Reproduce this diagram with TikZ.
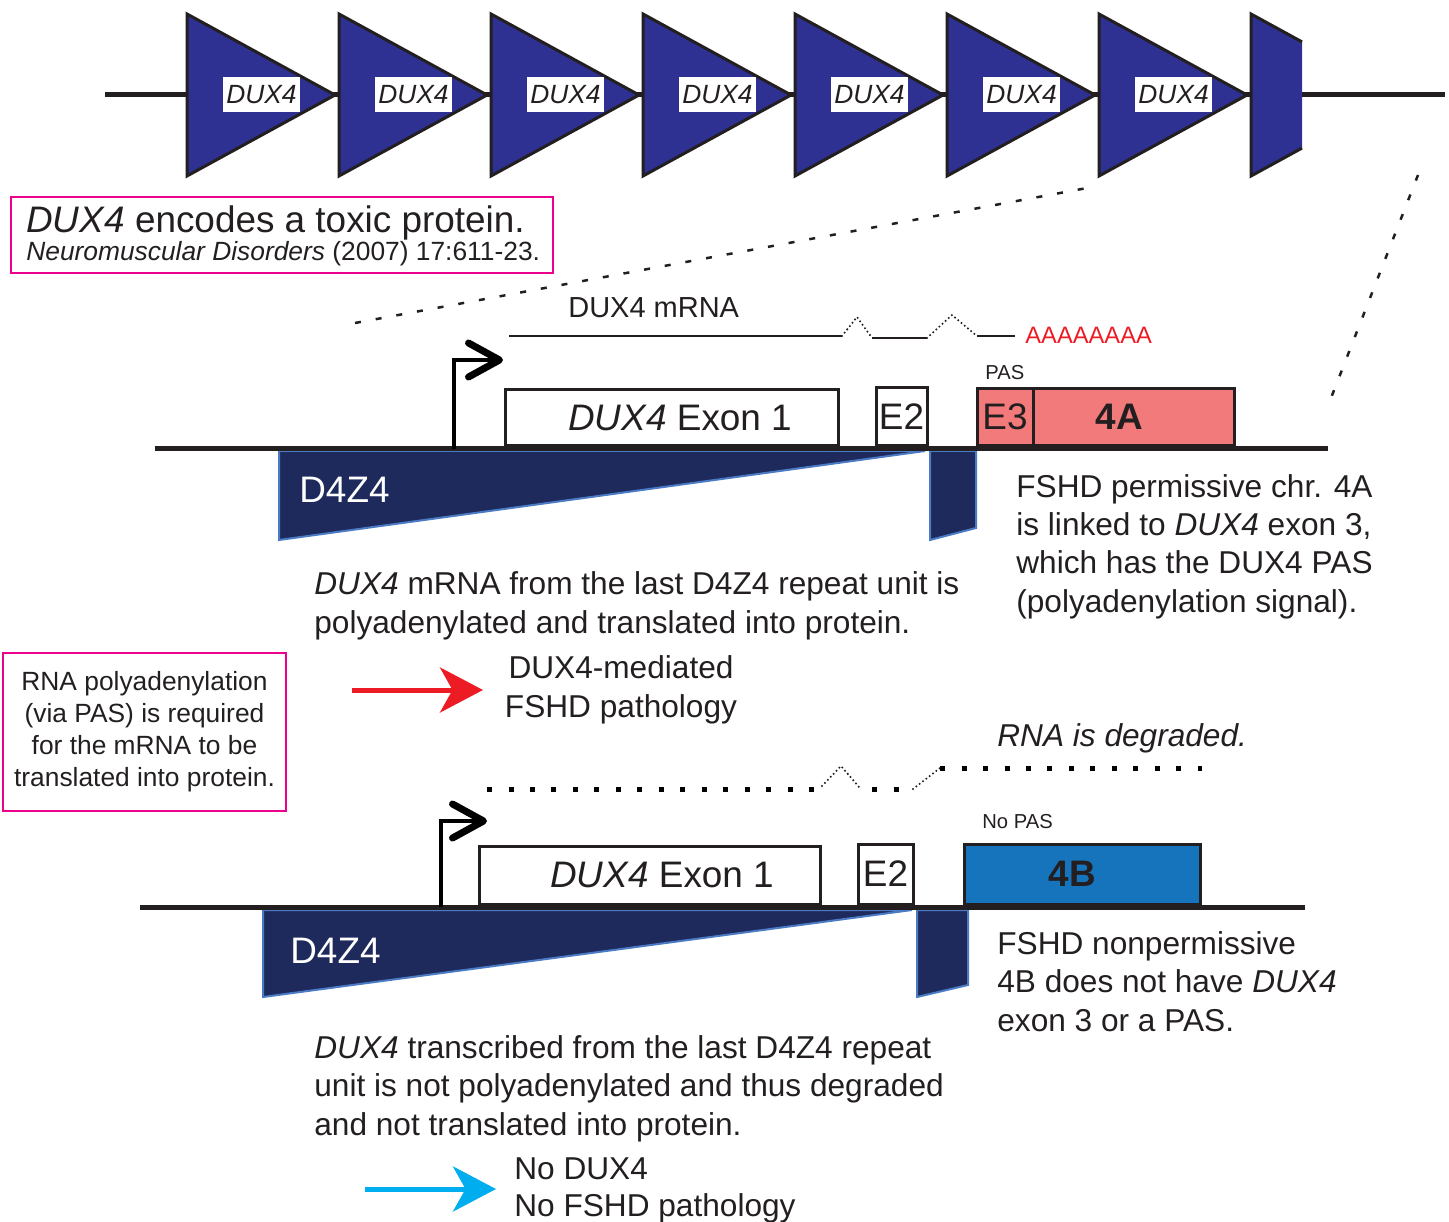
\documentclass[tikz,border=0pt]{standalone}
\usepackage{fontspec}
\setmainfont{Liberation Sans}
\usetikzlibrary{arrows.meta}

\definecolor{ink}{RGB}{35,31,32}
\definecolor{rptblue}{RGB}{46,49,146}
\definecolor{navy}{RGB}{31,42,92}
\definecolor{edgeblue}{RGB}{74,123,196}
\definecolor{boxpink}{RGB}{236,0,140}
\definecolor{arrred}{RGB}{237,28,36}
\definecolor{arrcyan}{RGB}{0,174,239}
\definecolor{salmon}{RGB}{242,122,122}
\definecolor{hapblue}{RGB}{21,116,187}

\newcommand{\fsz}[2]{\fontsize{#1}{#2}\selectfont}

\tikzset{
  chrline/.style={draw=ink, line width=0.1cm},
  rpt/.style={fill=rptblue, draw=ink, line width=0.06cm},
  rptlab/.style={fill=white, inner sep=0pt, minimum width=1.54cm, minimum height=0.7cm, text=ink, font=\fsz{15pt}{18pt}\itshape},
  pinkbox/.style={draw=boxpink, line width=0.045cm, inner sep=0pt},
  gbox/.style={draw=ink, line width=0.06cm, fill=white, inner sep=0pt, text=ink, font=\fsz{21pt}{25pt}},
  repunit/.style={fill=navy, draw=edgeblue, line width=0.04cm},
  dzlab/.style={text=white, inner sep=0pt, anchor=base west, font=\fsz{21pt}{25pt}},
  txt/.style={text=ink, inner sep=0pt, anchor=base west, align=left, font=\fsz{18pt}{21.7pt}},
  tss/.style={draw=black, line width=0.08cm, -{Straight Barb[length=0.62cm, width=0.68cm, line width=0.14cm, round]}},
  mrna/.style={draw=ink, line width=0.04cm},
  intron/.style={draw=ink, line width=1.3pt, line cap=round, dash pattern=on 0pt off 2.4pt},
  degr/.style={draw=black, line width=0.1cm, dash pattern=on 0.1cm off 0.33cm},
  zoomln/.style={draw=ink, line width=0.05cm, dash pattern=on 0.12cm off 0.3cm},
  outarrow/.style={line width=0.1cm, -{Stealth[length=0.86cm, width=0.9cm, inset=0.25cm]}},
}

\begin{document}
\begin{tikzpicture}[x=0.02cm, y=-0.02cm]
\useasboundingbox (0,0) rectangle (1449,1222);

% D4Z4 array on chr 4q35
\draw[chrline] (105,95) -- (1445,95);
\foreach \i in {0,...,6}{
  \pgfmathsetmacro\lx{187+152*\i}
  \draw[rpt] (\lx,14) -- ++(148,81) -- (\lx,176) -- cycle;
  \node[rptlab] (rpt\i) at (\lx+74.5,94.5) {DUX4};
}
\fill[rptblue] (1251,14) -- (1302,41.9) -- (1302,148.1) -- (1251,176) -- cycle;
\draw[rpt, fill=none] (1302,41.9) -- (1251,14) -- (1251,176) -- (1302,148.1);

% zoom from last unit
\coordinate (zAl) at (355,323);
\coordinate (zAr) at (1098,186);
\coordinate (zBr) at (1418,175);
\coordinate (zBl) at (1331,398);
\draw[zoomln] (zAl) -- (zAr);
\draw[zoomln] (zBr) -- (zBl);

% reference box
\node[pinkbox, minimum width=10.84cm, minimum height=1.52cm, anchor=north west] (citebox) at (10,196) {};
\node[txt, font=\fsz{21pt}{25pt}] (title) at (26,233) {\itshape DUX4\upshape{} encodes a toxic protein.};
\node[txt, font=\fsz{15pt}{18pt}] (citeref) at (26,261) {\itshape Neuromuscular Disorders\upshape{} (2007) 17:611-23.};

% ---- permissive 4A allele ----
\draw[repunit] (279,451) -- (925,451) -- (279,540) -- cycle;
\draw[repunit] (930,451) -- (976,451) -- (976,528) -- (930,540) -- cycle;
\node[dzlab] (dzA) at (299,502) {D4Z4};

\node[gbox, minimum width=6.68cm, minimum height=1.14cm] (exonOneA) at (672,417.5) {\hspace*{0.32cm}\itshape DUX4\upshape{} Exon 1};
\node[gbox, minimum width=1.02cm, minimum height=1.18cm] (exonTwoA) at (901.5,416.5) {E2};
\node[gbox, fill=salmon, minimum width=1.12cm, minimum height=1.16cm] (exonThreeA) at (1005,417) {E3};
\node[gbox, fill=salmon, minimum width=4.02cm, minimum height=1.16cm, font=\fsz{21pt}{25pt}\bfseries] (hapA) at (1133.5,417) {4A\hspace*{0.56cm}};
\draw[chrline] (155,449) -- (1328,449);

\coordinate (tssA) at (454,449);
\coordinate (tssAend) at (503,360);
\draw[tss] (tssA) |- (tssAend);

\draw[mrna] (509,336) -- (842,336);
\draw[intron] (842,336) -- (857,317) -- (872,338);
\draw[mrna] (872,338) -- (927,338);
\draw[intron] (927,338) -- (952,315) -- (977,336);
\draw[mrna] (977,336) -- (1015,336);
\node[txt, font=\fsz{16.5pt}{20pt}] (mrnaA) at (568,318) {DUX4 mRNA};
\node[txt, text=arrred, font=\fsz{13.5pt}{16pt}] (polyA) at (1025,343.5) {AAAAAAAA};
\node[txt, font=\fsz{11.5pt}{14pt}] (pasA) at (985,380) {PAS};

\node[txt] (descA) at (1016,612) {FSHD permissive chr. 4A\\is linked to \itshape DUX4\upshape{} exon 3,\\which has the DUX4 PAS\\(polyadenylation signal).};
\node[txt] (bodyA) at (314,633) {\itshape DUX4\upshape{} mRNA from the last D4Z4 repeat unit is\\polyadenylated and translated into protein.};

\coordinate (redS) at (352,690);
\coordinate (redE) at (483,690);
\draw[outarrow, arrred] (redS) -- (redE);
\node[txt, anchor=base, align=center] (outA) at (621,717) {DUX4-mediated\\FSHD pathology};

% note box
\node[pinkbox, minimum width=5.66cm, minimum height=3.16cm, align=center, text=ink, font=\fsz{15pt}{18.2pt}] (note) at (144.5,732) {RNA polyadenylation\\(via PAS) is required\\for the mRNA to be\\translated into protein.};

% ---- nonpermissive 4B allele ----
\node[txt, font=\fsz{18pt}{21.7pt}\itshape] (degrA) at (997,746) {RNA is degraded.};
\draw[degr] (487,789) -- (815,789);
\draw[intron] (822,786) -- (841,766) -- (859,787);
\draw[degr] (872,789) -- (905,789);
\draw[intron] (913,789) -- (940,768);
\draw[degr] (940,768) -- (1202,768);

\draw[repunit] (263,910) -- (912,910) -- (263,997) -- cycle;
\draw[repunit] (917,910) -- (968,910) -- (968,985) -- (917,997) -- cycle;
\node[dzlab] (dzB) at (290,963) {D4Z4};

\node[gbox, minimum width=6.84cm, minimum height=1.16cm] (exonOneB) at (650,875) {\hspace*{0.48cm}\itshape DUX4\upshape{} Exon 1};
\node[gbox, minimum width=1.1cm, minimum height=1.2cm] (exonTwoB) at (885.5,874) {E2};
\node[gbox, fill=hapblue, minimum width=4.74cm, minimum height=1.2cm, font=\fsz{21pt}{25pt}\bfseries] (hapB) at (1082.5,874) {4B\hspace*{0.4cm}};
\draw[chrline] (140,907) -- (1305,907);

\coordinate (tssB) at (441,907);
\coordinate (tssBend) at (487,821);
\draw[tss] (tssB) |- (tssBend);

\node[txt, font=\fsz{11.5pt}{14pt}] (pasB) at (982,828) {No PAS};
\node[txt] (descB) at (997,1031) {FSHD nonpermissive\\4B does not have \itshape DUX4\upshape\\exon 3 or a PAS.};
\node[txt, font=\fsz{18pt}{21.9pt}] (bodyB) at (314,1135) {\itshape DUX4\upshape{} transcribed from the last D4Z4 repeat\\unit is not polyadenylated and thus degraded\\and not translated into protein.};

\coordinate (cyanS) at (365,1189);
\coordinate (cyanE) at (496,1189);
\draw[outarrow, arrcyan] (cyanS) -- (cyanE);
\node[txt, font=\fsz{18pt}{21pt}] (outB) at (514,1216) {No DUX4\\No FSHD pathology};
\end{tikzpicture}
\end{document}
